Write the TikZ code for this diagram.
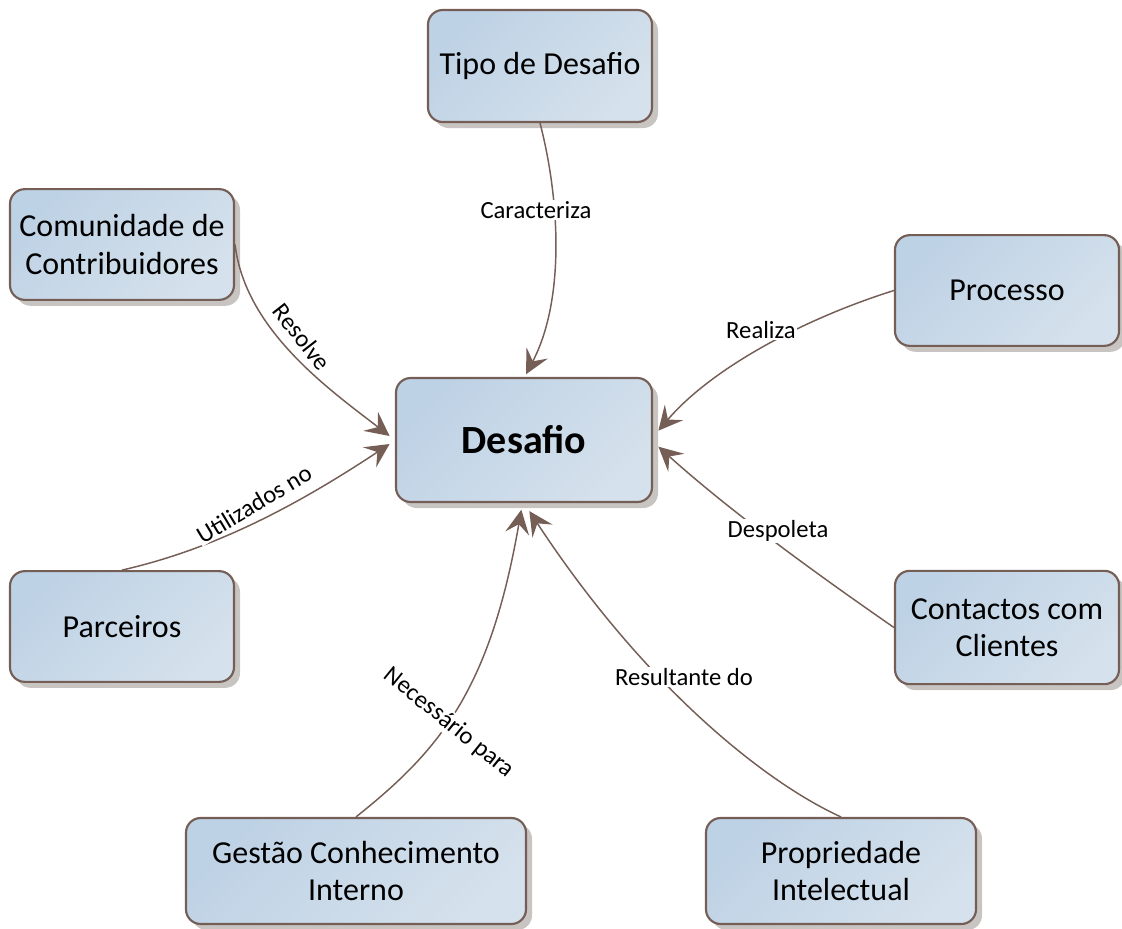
\documentclass[tikz,border=0pt]{standalone}
\usepackage{fontspec}
\setmainfont{Carlito}
\usetikzlibrary{shadows,arrows.meta}
\definecolor{edgebrown}{RGB}{116,94,86}
\definecolor{boxdark}{RGB}{190,210,229}
\definecolor{boxlight}{RGB}{213,225,236}
\definecolor{shadowgray}{RGB}{200,196,194}
\tikzset{
  box/.style={draw=edgebrown, line width=1.6pt, rounded corners=11pt,
    left color=boxdark, right color=boxlight, shading angle=45,
    drop shadow={shadow xshift=4.5pt, shadow yshift=-4.5pt, fill=shadowgray, opacity=1},
    align=center, font=\fontsize{24}{28}\selectfont, inner sep=2pt},
  link/.style={draw=edgebrown, line width=1.1pt,
    -{Stealth[length=18pt, width=18pt, inset=7pt]}},
  lbl/.style={fill=white, inner sep=1pt, font=\fontsize{18.5}{22}\selectfont}
}
\begin{document}
\begin{tikzpicture}[x=0.75pt, y=-0.75pt]
\useasboundingbox (0,0) rectangle (1122,929);

% concepts
\node[box, minimum width=168pt, minimum height=84pt] (tipo) at (540,66) {Tipo de Desafio};
\node[box, minimum width=168pt, minimum height=83pt] (comun) at (122,244.5) {Comunidade de\\Contribuidores};
\node[box, minimum width=168pt, minimum height=83pt] (proc) at (1007,290.5) {Processo};
\node[box, minimum width=192pt, minimum height=93pt, font=\fontsize{30}{34}\selectfont\bfseries] (desafio) at (524,440) {Desafio};
\node[box, minimum width=168pt, minimum height=83pt] (parc) at (122,626.5) {Parceiros};
\node[box, minimum width=168pt, minimum height=85pt] (cont) at (1007,627.5) {Contactos com\\Clientes};
\node[box, minimum width=255pt, minimum height=79.5pt] (gest) at (356,871) {Gestão Conhecimento\\Interno};
\node[box, minimum width=202.5pt, minimum height=79.5pt] (prop) at (841,871) {Propriedade\\Intelectual};

% relations
\draw[link] (tipo.south) .. controls (560,200) and (565,300) .. ([xshift=1.5pt,yshift=2pt]desafio.north);
\draw[link] (comun.east) .. controls (245,330) and (330,390) .. ([xshift=-4pt,yshift=3pt]desafio.west);
\draw[link] (parc.north) .. controls (210,550) and (290,510) .. ([xshift=-4pt,yshift=-3pt]desafio.west);
\draw[link] (proc.west) .. controls (800,320) and (710,370) .. ([xshift=4pt,yshift=7pt]desafio.east);
\draw[link] (cont.west) .. controls (840,590) and (740,520) .. ([xshift=4pt,yshift=-5pt]desafio.east);
\draw[link] (gest.north) .. controls (440,750) and (490,690) .. ([xshift=-2pt,yshift=-5pt]desafio.south);
\draw[link] (prop.north) .. controls (760,780) and (640,680) .. ([xshift=4pt,yshift=-6pt]desafio.south);

% relation labels
\node[lbl] (l1) at (536,210) {Caracteriza};
\node[lbl, rotate=-52] (l2) at (302,337) {Resolve};
\node[lbl, rotate=31] (l3) at (254,504) {Utilizados no};
\node[lbl] (l4) at (761,330) {Realiza};
\node[lbl] (l5) at (778,531) {Despoleta};
\node[lbl, rotate=-39] (l6) at (449,723) {Necessário para};
\node[lbl] (l7) at (684,677) {Resultante do};
\end{tikzpicture}
\end{document}
